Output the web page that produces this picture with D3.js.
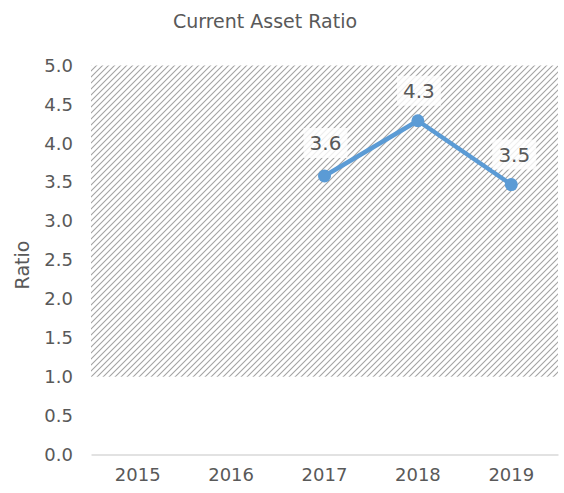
<!DOCTYPE html>
<html>
<head>
<meta charset="utf-8">
<script src="https://cdn.jsdelivr.net/npm/d3@7/dist/d3.min.js"></script>
<style>
  html, body { margin: 0; padding: 0; background: #fff; }
  svg text { font-family: "DejaVu Sans", sans-serif; fill: #595959; }
</style>
</head>
<body>
<svg id="chart" width="564" height="493"></svg>
<script>
// Chart data
const years = ["2015", "2016", "2017", "2018", "2019"];
const ratioValues = [null, null, 3.58, 4.29, 3.47];
const yTicks = [0, 0.5, 1, 1.5, 2, 2.5, 3, 3.5, 4, 4.5, 5];
const bandRange = [1.0, 5.0]; // shaded reference band

const svg = d3.select("#chart");
const margin = { left: 91, right: 6, top: 65.5, bottom: 38.5 };
const W = 564, H = 493;

const x = d3.scaleBand().domain(years).range([margin.left, W - margin.right]);
const y = d3.scaleLinear().domain([0, 5]).range([H - margin.bottom, margin.top]);

// Hatch pattern: light upward diagonal
const defs = svg.append("defs");
const pat = defs.append("pattern")
  .attr("id", "hatch")
  .attr("patternUnits", "userSpaceOnUse")
  .attr("width", 6).attr("height", 6);
pat.append("path")
  .attr("d", "M0,6 L6,0 M-1,1 L1,-1 M5,7 L7,5")
  .attr("stroke", "#a3a3a3")
  .attr("stroke-width", 1.1);

svg.append("rect")
  .attr("x", x.range()[0])
  .attr("width", x.range()[1] - x.range()[0])
  .attr("y", y(bandRange[1]))
  .attr("height", y(bandRange[0]) - y(bandRange[1]))
  .attr("fill", "url(#hatch)");

// Title
svg.append("text")
  .attr("x", 265).attr("y", 28)
  .attr("text-anchor", "middle")
  .style("font-size", "19px")
  .text("Current Asset Ratio");

// Y axis title
svg.append("text")
  .attr("transform", "translate(29,265) rotate(-90)")
  .attr("text-anchor", "middle")
  .style("font-size", "19px")
  .text("Ratio");

// Y axis
const yAxis = svg.append("g")
  .attr("transform", `translate(${margin.left},0)`)
  .call(d3.axisLeft(y).tickValues(yTicks).tickFormat(d3.format(".1f")).tickSize(0).tickPadding(18));
yAxis.select(".domain").remove();
yAxis.selectAll("text").style("font-size", "18px").attr("fill", "#595959");

// X axis
const xAxis = svg.append("g")
  .attr("transform", `translate(0,${y(0)})`)
  .call(d3.axisBottom(x).tickSize(0).tickPadding(14));
xAxis.select(".domain").attr("stroke", "#d9d9d9").attr("stroke-width", 1.5);
xAxis.selectAll("text").style("font-size", "18px").attr("fill", "#595959");

// Series
const pts = years.map((yr, i) => ({ yr, v: ratioValues[i] })).filter(d => d.v != null);
const line = d3.line().x(d => x(d.yr) + x.bandwidth() / 2).y(d => y(d.v));

svg.append("path")
  .datum(pts)
  .attr("d", line)
  .attr("fill", "none")
  .attr("stroke", "#5B9BD5")
  .attr("stroke-width", 4.5)
  .attr("stroke-linejoin", "round");

svg.selectAll("circle.pt")
  .data(pts).enter().append("circle")
  .attr("class", "pt")
  .attr("cx", d => x(d.yr) + x.bandwidth() / 2)
  .attr("cy", d => y(d.v))
  .attr("r", 6.5)
  .attr("fill", "#5B9BD5");

// Data labels with white backing
const labelOffsets = { "2017": [1, -33], "2018": [1, -30], "2019": [3, -30] };
const lbl = svg.selectAll("g.lbl")
  .data(pts).enter().append("g")
  .attr("class", "lbl")
  .attr("transform", d => {
    const o = labelOffsets[d.yr];
    return `translate(${x(d.yr) + x.bandwidth() / 2 + o[0]},${y(d.v) + o[1]})`;
  });
lbl.append("rect")
  .attr("x", -22).attr("y", -15).attr("width", 44).attr("height", 30)
  .attr("fill", "#fff").attr("fill-opacity", 0.8);
lbl.append("text")
  .attr("text-anchor", "middle")
  .attr("dy", "0.36em")
  .style("font-size", "20px")
  .attr("fill", "#404040")
  .text(d => d3.format(".1f")(d.v));
</script>
</body>
</html>
